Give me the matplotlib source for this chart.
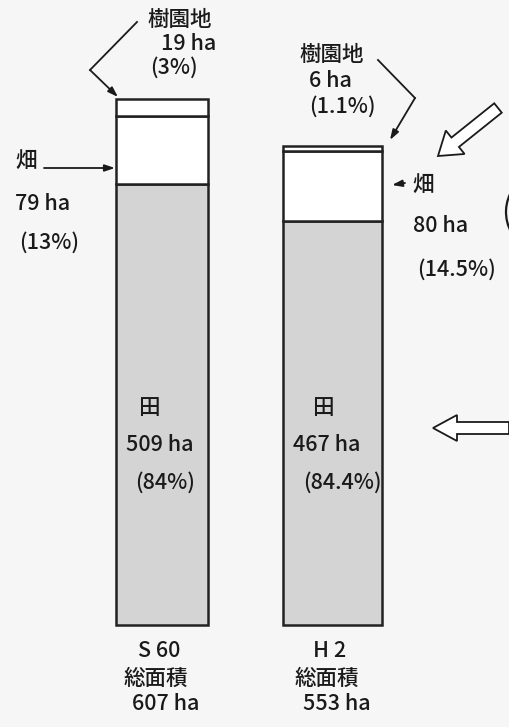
import matplotlib.pyplot as plt
from matplotlib.patches import FancyArrow, Arc

plt.rcParams['font.family'] = ['Noto Sans CJK JP', 'DejaVu Sans']

# data (ha)
years = ["S 60", "H 2"]
totals = [607, 553]
paddy = [509, 467]        # 田
field = [79, 80]          # 畑
orchard = [19, 6]         # 樹園地
paddy_pct = ["(84%)", "(84.4%)"]
field_pct = ["(13%)", "(14.5%)"]
orchard_pct = ["(3%)", "(1.1%)"]

x_pos = [162, 333]
widths = [92, 99]
fill_gray = "#d4d4d4"
bg = "#f6f6f6"
tc = "#1a1a1a"

fig = plt.figure(figsize=(5.09, 7.27), dpi=100, facecolor=bg)

# bars, drawn on a ha scale
ax = fig.add_axes([0, 0, 1, 1])
ax.set_facecolor(bg)
ax.set_xlim(0, 509)
ax.set_ylim(-117.8, 721.7)
ax.axis("off")

lw = 1.8
ax.bar(x_pos, paddy, width=widths, color=fill_gray, edgecolor="#222222", linewidth=lw)
ax.bar(x_pos, field, bottom=paddy, width=widths, color="white", edgecolor="#222222", linewidth=lw)
ax.bar(x_pos, orchard, bottom=[p + f for p, f in zip(paddy, field)], width=widths,
       color="white", edgecolor="#222222", linewidth=lw)

# overlay in pixel coordinates for labels and callouts
ov = fig.add_axes([0, 0, 1, 1], facecolor="none")
ov.set_xlim(0, 509)
ov.set_ylim(727, 0)
ov.axis("off")

fs = 15.5

def lab(x, y, s):
    ov.text(x, y, s, fontsize=fs, ha="center", va="center", color=tc, fontweight="medium")

def arrow(x0, y0, x1, y1):
    ov.annotate("", xy=(x1, y1), xytext=(x0, y0),
                arrowprops=dict(arrowstyle="-|>,head_length=0.6,head_width=0.2",
                                color=tc, lw=1.3, shrinkA=0, shrinkB=0))

# 樹園地 callouts
lab(180, 20, "樹園地")
lab(189, 44, f"{orchard[0]} ha")
lab(174, 68, orchard_pct[0])
ov.plot([137, 90], [22, 70], color=tc, lw=1.3)
arrow(90, 70, 118, 97)

lab(332, 55, "樹園地")
lab(330, 81, f"{orchard[1]} ha")
lab(342, 107, orchard_pct[1])
ov.plot([378, 415], [60, 98], color=tc, lw=1.3)
arrow(415, 98, 390, 140)

# 畑 callouts
lab(26, 162, "畑")
arrow(44, 168, 115, 168)
lab(43, 204, f"{field[0]} ha")
lab(49, 243, field_pct[0])

arrow(405, 183, 392, 185)
lab(423, 186, "畑")
lab(441, 226, f"{field[1]} ha")
lab(457, 270, field_pct[1])

# 田 labels
for i in range(2):
    lab(x_pos[i] - 13 + 3 * i, 408, "田")
    lab(x_pos[i] - 2 - 4 * i, 445, f"{paddy[i]} ha")
    lab(x_pos[i] + 3 + 6 * i, 483, paddy_pct[i])

# category labels below bars
for i in range(2):
    lab(x_pos[i] - 3, 651, years[i])
    lab(x_pos[i] - 6, 679, "総面積")
    lab(x_pos[i] + 4, 704, f"{totals[i]} ha")

# hollow pointer arrows on the right
ov.add_patch(FancyArrow(498, 108, -60, 48, width=12, head_width=30,
                        head_length=22, length_includes_head=True,
                        facecolor="white", edgecolor=tc, lw=1.3))
ov.add_patch(FancyArrow(509, 428, -76, 0, width=12, head_width=26,
                        head_length=24, length_includes_head=True,
                        facecolor="white", edgecolor=tc, lw=1.3))

# partial circle at the right edge
ov.add_patch(Arc((548, 212), 84, 84, theta1=150, theta2=215, color=tc, lw=1.6))

fig.savefig("out.png", dpi=100, facecolor=bg)
